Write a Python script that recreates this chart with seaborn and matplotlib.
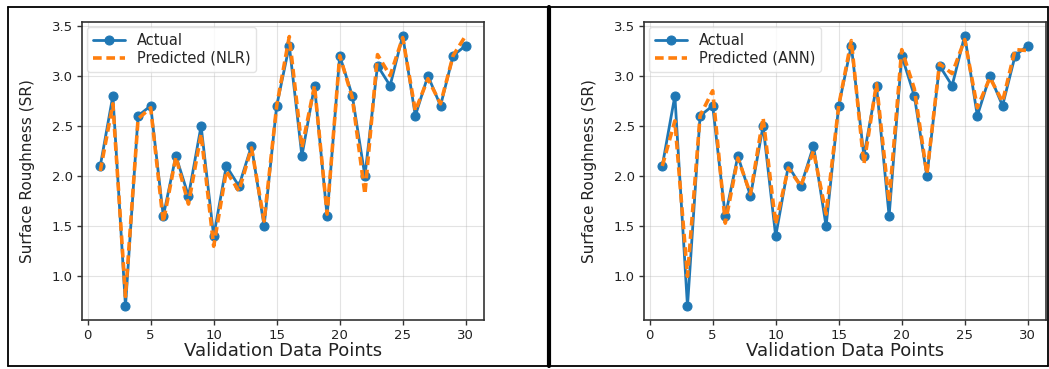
import numpy as np
import pandas as pd
import matplotlib
matplotlib.use("Agg")
import matplotlib.pyplot as plt
from matplotlib.lines import Line2D
import seaborn as sns

# ---- data ----
points = list(range(1, 31))
actual = [2.1, 2.8, 0.7, 2.6, 2.7, 1.6, 2.2, 1.8, 2.5, 1.4,
          2.1, 1.9, 2.3, 1.5, 2.7, 3.3, 2.2, 2.9, 1.6, 3.2,
          2.8, 2.0, 3.1, 2.9, 3.4, 2.6, 3.0, 2.7, 3.2, 3.3]
pred_nlr = [2.05, 2.72, 0.80, 2.57, 2.68, 1.54, 2.19, 1.72, 2.42, 1.30,
            2.05, 1.85, 2.28, 1.55, 2.70, 3.39, 2.28, 2.90, 1.62, 3.20,
            2.78, 1.82, 3.21, 3.00, 3.38, 2.65, 2.97, 2.72, 3.20, 3.40]
pred_ann = [2.10, 2.55, 1.00, 2.60, 2.85, 1.53, 2.18, 1.82, 2.58, 1.52,
            2.08, 1.90, 2.25, 1.62, 2.70, 3.35, 2.12, 2.92, 1.74, 3.26,
            2.87, 2.02, 3.12, 3.02, 3.36, 2.68, 2.98, 2.74, 3.26, 3.25]
panels = [("Predicted (NLR)", pred_nlr), ("Predicted (ANN)", pred_ann)]
xlabel = "Validation Data Points"
ylabel = "Surface Roughness (SR)"

sns.set_style("ticks")
plt.rcParams['font.family'] = ['DejaVu Sans']

W, H = 1049, 369
fig = plt.figure(figsize=(W / 100, H / 100), dpi=100)

blue = "#1f77b4"
orange = "#ff7f0e"

axes_px = [(82, 484), (644, 1046)]
top_px, bot_px = 22, 320
for (label, pred), (l, r) in zip(panels, axes_px):
    ax = fig.add_axes([l / W, 1 - bot_px / H, (r - l) / W, (bot_px - top_px) / H])
    df = pd.DataFrame({"x": points, "actual": actual, "pred": pred})
    sns.lineplot(data=df, x="x", y="actual", ax=ax, color=blue, marker="o",
                 markersize=6.5, linewidth=2.0, label="Actual",
                 markeredgecolor=blue)
    sns.lineplot(data=df, x="x", y="pred", ax=ax, color=orange,
                 linestyle=(0, (2.4, 1.3)), linewidth=2.6, label=label)
    ax.set_xticks([0, 5, 10, 15, 20, 25, 30])
    ax.set_yticks([1.0, 1.5, 2.0, 2.5, 3.0, 3.5])
    ax.grid(True, color="#b0b0b0", alpha=0.35, linewidth=0.8)
    ax.tick_params(labelsize=9.5, length=3.5, width=1, colors="#333333",
                   labelcolor="#222222", pad=3)
    for s in ax.spines.values():
        s.set_visible(True)
        s.set_color("#333333")
        s.set_linewidth(1.2)
    ax.set_xlabel(xlabel, fontsize=13, labelpad=0, color="#222222")
    ax.set_ylabel(ylabel, fontsize=11, labelpad=12, color="#222222")
    leg = ax.legend(loc="upper left", fontsize=10.5, handlelength=2.2,
                    borderaxespad=0.35, labelspacing=0.2, frameon=True)
    leg.get_frame().set_edgecolor("#dddddd")

# panel frames
def fline(x0, y0, x1, y1, lw):
    fig.add_artist(Line2D([x0 / W, x1 / W], [1 - y0 / H, 1 - y1 / H],
                          transform=fig.transFigure, color="black", linewidth=lw))

fline(8, 7, 1048, 7, 1.3)
fline(8, 366, 1048, 366, 1.3)
fline(8, 7, 8, 366, 1.3)
fline(1048, 7, 1048, 366, 1.3)
fline(549, 7, 549, 366, 3.0)

fig.savefig("out.png", dpi=100)
